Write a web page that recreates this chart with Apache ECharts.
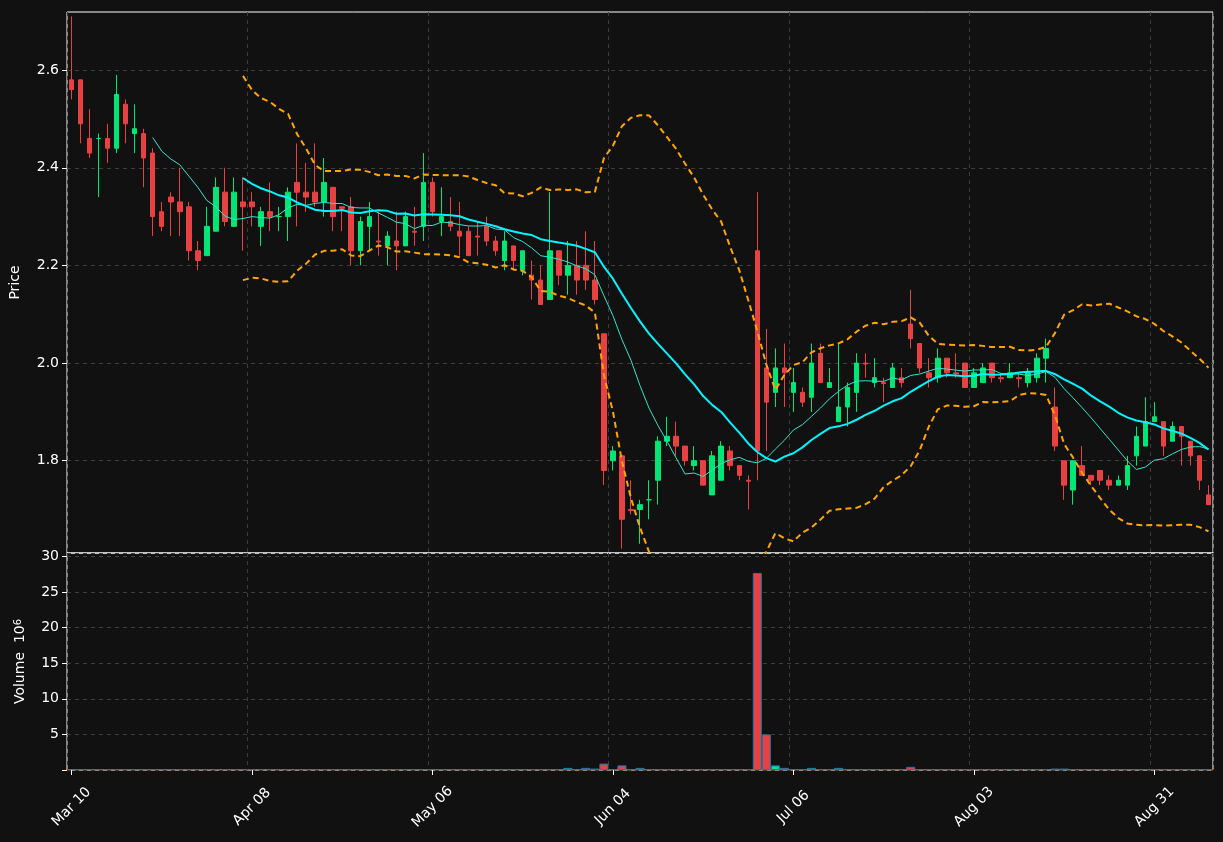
<!DOCTYPE html>
<html>
<head>
<meta charset="utf-8">
<script src="https://cdn.jsdelivr.net/npm/echarts@6/dist/echarts.min.js"></script>
<style>
html,body{margin:0;padding:0;background:#111111;}
#chart{width:1223px;height:842px;}
</style>
</head>
<body>
<div id="chart"></div>
<script>
// daily candles
var opens = [2.58,2.58,2.46,2.46,2.46,2.44,2.53,2.47,2.47,2.43,
  2.31,2.34,2.33,2.32,2.23,2.22,2.27,2.35,2.28,2.33,
  2.33,2.28,2.31,2.30,2.30,2.37,2.35,2.35,2.33,2.36,
  2.32,2.32,2.23,2.28,2.25,2.24,2.25,2.24,2.27,2.28,
  2.37,2.29,2.29,2.27,2.27,2.26,2.28,2.25,2.21,2.24,
  2.19,2.18,2.17,2.13,2.23,2.18,2.20,2.20,2.17,2.06,
  1.80,1.81,1.70,1.70,1.72,1.76,1.84,1.85,1.83,1.79,
  1.80,1.73,1.76,1.82,1.79,1.76,2.23,1.99,1.94,1.99,
  1.94,1.94,1.93,2.02,1.95,1.88,1.91,1.94,2.00,1.96,
  1.96,1.95,1.97,2.08,2.04,1.98,1.97,2.01,1.98,2.00,
  1.95,1.96,2.00,1.97,1.97,1.97,1.96,1.97,2.01,1.91,
  1.80,1.74,1.79,1.77,1.78,1.76,1.75,1.75,1.81,1.83,
  1.88,1.88,1.84,1.87,1.84,1.81,1.73];
var closes = [2.56,2.49,2.43,2.46,2.44,2.55,2.49,2.48,2.42,2.30,
  2.28,2.33,2.31,2.23,2.21,2.28,2.36,2.29,2.35,2.32,
  2.32,2.31,2.30,2.30,2.35,2.35,2.34,2.33,2.37,2.30,
  2.317,2.23,2.29,2.30,2.248,2.26,2.24,2.30,2.268,2.37,
  2.31,2.30,2.28,2.26,2.22,2.258,2.25,2.23,2.25,2.21,
  2.23,2.17,2.12,2.23,2.18,2.20,2.17,2.17,2.13,1.78,
  1.82,1.68,1.698,1.71,1.72,1.84,1.85,1.83,1.80,1.80,
  1.75,1.81,1.83,1.79,1.77,1.758,1.82,1.92,1.99,1.98,
  1.96,1.92,2.00,1.96,1.96,1.91,1.95,2.00,1.998,1.97,
  1.958,1.99,1.96,2.05,1.99,1.97,2.01,1.98,1.978,1.95,
  1.98,1.99,1.97,1.968,1.98,1.968,1.98,2.01,2.03,1.83,
  1.75,1.80,1.77,1.76,1.76,1.75,1.76,1.79,1.85,1.88,
  1.89,1.83,1.87,1.85,1.81,1.76,1.71];
var lows = [2.54,2.45,2.42,2.34,2.41,2.43,2.45,2.43,2.36,2.26,
  2.27,2.26,2.26,2.21,2.19,2.22,2.27,2.28,2.28,2.23,
  2.28,2.24,2.27,2.27,2.25,2.28,2.31,2.32,2.30,2.27,
  2.27,2.20,2.20,2.23,2.22,2.20,2.19,2.24,2.24,2.25,
  2.30,2.26,2.27,2.22,2.22,2.22,2.24,2.22,2.19,2.19,
  2.18,2.13,2.12,2.13,2.16,2.14,2.14,2.15,2.12,1.75,
  1.78,1.62,1.69,1.63,1.68,1.71,1.83,1.81,1.79,1.78,
  1.75,1.73,1.76,1.78,1.76,1.70,1.76,1.82,1.91,1.91,
  1.90,1.91,1.90,1.96,1.95,1.88,1.87,1.90,1.97,1.95,
  1.92,1.95,1.95,2.03,1.98,1.95,1.96,1.97,1.97,1.95,
  1.95,1.96,1.96,1.96,1.97,1.95,1.95,1.96,1.96,1.82,
  1.72,1.71,1.77,1.75,1.75,1.74,1.75,1.74,1.79,1.83,
  1.88,1.81,1.84,1.79,1.79,1.74,1.71];
var highs = [2.71,2.58,2.52,2.47,2.49,2.59,2.54,2.53,2.48,2.44,
  2.33,2.35,2.40,2.33,2.25,2.32,2.38,2.40,2.38,2.38,
  2.35,2.32,2.37,2.32,2.36,2.45,2.41,2.45,2.42,2.36,
  2.32,2.34,2.30,2.33,2.31,2.27,2.31,2.31,2.32,2.43,
  2.38,2.36,2.34,2.33,2.28,2.29,2.30,2.26,2.27,2.24,
  2.23,2.21,2.20,2.35,2.23,2.25,2.25,2.27,2.25,2.06,
  1.83,1.81,1.76,1.72,1.76,1.85,1.89,1.88,1.83,1.83,
  1.80,1.82,1.84,1.83,1.79,1.77,2.35,2.07,2.03,2.04,
  1.99,1.95,2.04,2.04,1.99,2.04,1.96,2.02,2.02,2.01,
  1.97,2.00,1.99,2.15,2.04,2.01,2.03,2.01,2.02,2.00,
  1.99,2.00,2.00,1.98,2.00,1.98,1.99,2.02,2.05,1.95,
  1.80,1.80,1.83,1.77,1.78,1.77,1.77,1.81,1.87,1.93,
  1.92,1.88,1.88,1.87,1.84,1.81,1.75];
// volume in millions
var volumes = [0.1,0.1,0,0.1,0,0.1,0,0,0,0.1,
  0,0,0,0,0,0,0,0,0,0.1,
  0.1,0,0,0,0,0.1,0,0,0.1,0,
  0,0,0,0,0,0,0,0,0,0,
  0,0,0,0,0,0,0,0,0,0,
  0,0.1,0,0.1,0,0.3,0,0.3,0.2,0.9,
  0.1,0.65,0.1,0.3,0.1,0.1,0,0,0,0,
  0,0,0,0,0,0,27.7,5.0,0.65,0.3,
  0.1,0,0.3,0.1,0,0.3,0.1,0.1,0,0,
  0,0,0,0.45,0,0,0,0,0,0,
  0,0,0,0,0,0,0,0.05,0.05,0.2,
  0.2,0,0,0,0,0,0,0,0,0,
  0,0,0,0.1,0,0,0];
var tickLabels = ['Mar 10','Apr 08','May 06','Jun 04','Jul 06','Aug 03','Aug 31'];
var tickStep = 20;
var priceTicks = [1.8,2.0,2.2,2.4,2.6];

var UP = '#00e676', DOWN = '#e84142';

var cats = [];
for (var i = 0; i < closes.length; i++) cats.push(i);

var candles = [];
for (var i = 0; i < closes.length; i++) candles.push([opens[i], closes[i], lows[i], highs[i]]);

function movingAvg(n) {
  var out = [];
  for (var i = 0; i < closes.length; i++) {
    if (i < n - 1) { out.push('-'); continue; }
    var s = 0;
    for (var j = i - n + 1; j <= i; j++) s += closes[j];
    out.push(s / n);
  }
  return out;
}
function band(n, k) {
  var mid = movingAvg(n), out = [];
  for (var i = 0; i < closes.length; i++) {
    if (mid[i] === '-') { out.push('-'); continue; }
    var ss = 0;
    for (var j = i - n + 1; j <= i; j++) ss += Math.pow(closes[j] - mid[i], 2);
    out.push(mid[i] + k * Math.sqrt(ss / (n - 1)));
  }
  return out;
}

var volData = volumes.map(function (v, i) {
  return { value: v, itemStyle: { color: closes[i] >= opens[i] ? UP : DOWN } };
});

var gridLine = { show: true, lineStyle: { color: '#3d3d3d', type: [4, 4] } };
var labelTxt = { color: '#ffffff', fontSize: 14, fontFamily: 'DejaVu Sans' };
var onTick = function (i) { return i % tickStep === 0; };

var myChart = echarts.init(document.getElementById('chart'));
var option = {
  backgroundColor: '#111111',
  animation: false,
  grid: [
    { left: 67, right: 10, top: 12, height: 541, show: true, borderColor: '#ffffff', borderWidth: 1 },
    { left: 67, right: 10, top: 553, height: 217, show: true, borderColor: '#ffffff', borderWidth: 1 }
  ],
  xAxis: [
    { type: 'category', gridIndex: 0, data: cats, boundaryGap: true,
      axisLine: { show: false }, axisTick: { show: false }, axisLabel: { show: false },
      splitLine: { show: true, interval: onTick, lineStyle: gridLine.lineStyle } },
    { type: 'category', gridIndex: 1, data: cats, boundaryGap: true,
      axisLine: { show: false },
      axisTick: { show: true, alignWithLabel: true, length: 5, interval: onTick, lineStyle: { color: '#fff' } },
      axisLabel: { color: '#fff', fontSize: 14, fontFamily: 'DejaVu Sans', rotate: 45, margin: 37,
        align: 'center', verticalAlign: 'middle', interval: onTick,
        formatter: function (v) { return tickLabels[Math.round(v / tickStep)] || ''; } },
      splitLine: { show: true, interval: onTick, lineStyle: gridLine.lineStyle } }
  ],
  yAxis: [
    { type: 'value', gridIndex: 0, min: 1.611, max: 2.719, scale: true,
      name: 'Price', nameLocation: 'middle', nameGap: 45, nameRotate: 90,
      nameTextStyle: labelTxt,
      axisLine: { show: false },
      axisTick: { show: true, length: 5, lineStyle: { color: '#fff' }, customValues: priceTicks },
      axisLabel: Object.assign({ customValues: priceTicks, formatter: function (v) { return v.toFixed(1); } }, labelTxt),
      splitLine: gridLine },
    { type: 'value', gridIndex: 1, min: 0, max: 30.5, interval: 5,
      name: '{a|Volume  10}{s|6}', nameLocation: 'middle', nameGap: 40, nameRotate: 90,
      nameTextStyle: { color: '#fff', rich: { a: labelTxt, s: { color: '#fff', fontSize: 10, fontFamily: 'DejaVu Sans', verticalAlign: 'top' } } },
      axisLine: { show: false },
      axisTick: { show: true, length: 5, lineStyle: { color: '#fff' } },
      axisLabel: Object.assign({ formatter: function (v) { return v === 0 ? '' : v; } }, labelTxt),
      splitLine: gridLine }
  ],
  series: [
    { type: 'candlestick', xAxisIndex: 0, yAxisIndex: 0, data: candles, barWidth: 5,
      itemStyle: { color: UP, color0: DOWN, borderColor: UP, borderColor0: DOWN, borderWidth: 1 } },
    { type: 'line', xAxisIndex: 0, yAxisIndex: 0, data: movingAvg(10), showSymbol: false,
      lineStyle: { color: '#2ee6cf', width: 1 }, z: 3 },
    { type: 'line', xAxisIndex: 0, yAxisIndex: 0, data: movingAvg(20), showSymbol: false,
      lineStyle: { color: '#00f5ff', width: 2 }, z: 3 },
    { type: 'line', xAxisIndex: 0, yAxisIndex: 0, data: band(20, 2), showSymbol: false,
      lineStyle: { color: '#ffa500', width: 2, type: [6, 4] }, z: 3 },
    { type: 'line', xAxisIndex: 0, yAxisIndex: 0, data: band(20, -2), showSymbol: false,
      lineStyle: { color: '#ffa500', width: 2, type: [6, 4] }, z: 3 },
    { type: 'bar', xAxisIndex: 1, yAxisIndex: 1, data: volData, barWidth: '100%', barMinHeight: 1,
      itemStyle: { borderColor: '#1f77b4', borderWidth: 1 } }
  ]
};
myChart.setOption(option);
</script>
</body>
</html>
